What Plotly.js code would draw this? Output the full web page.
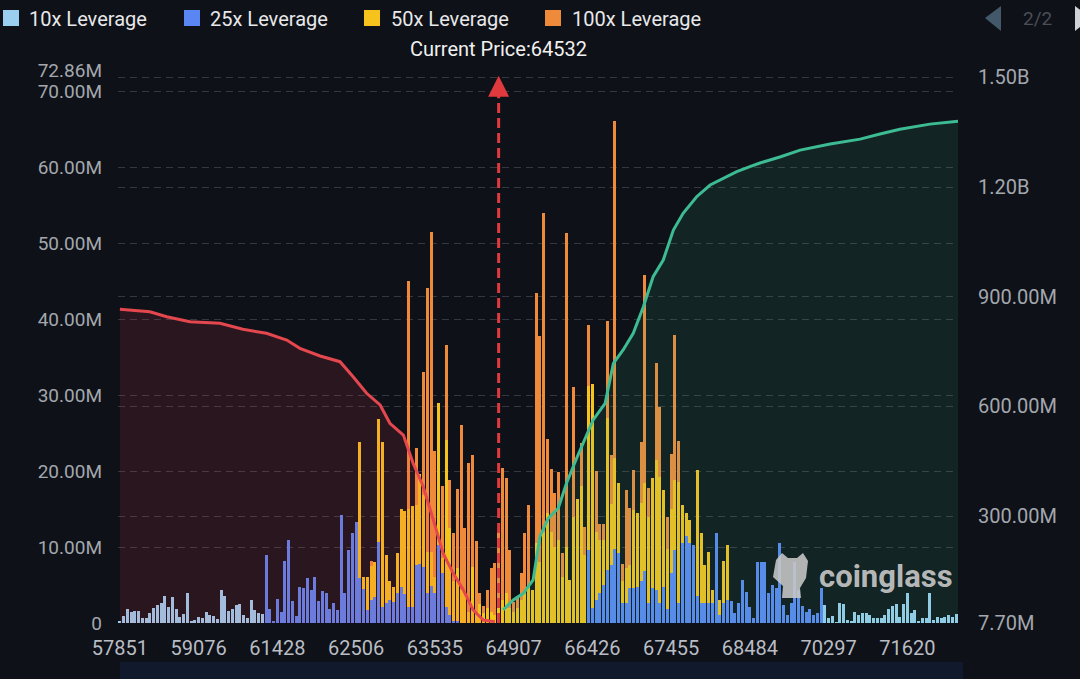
<!DOCTYPE html>
<html>
<head>
<meta charset="utf-8">
<script src="https://cdn.plot.ly/plotly-3.0.1.min.js"></script>
<style>
html,body{margin:0;padding:0;background:#0e1117;}
#chart{width:1080px;height:679px;}
</style>
</head>
<body>
<div id="chart"></div>
<script>
// ---------------- DATA ----------------
var seriesNames = ["10x Leverage", "25x Leverage", "50x Leverage", "100x Leverage"];

var xTickLabels = ["57851","59076","61428","62506","63535","64907","66426","67455","68484","70297","71620"];
var xTickIndex  = [0,21,42,63,84,105,126,147,168,189,210];

var leftTickVals = [0,10,20,30,40,50,60,70,72.86];
var leftTickText = ["0","10.00M","20.00M","30.00M","40.00M","50.00M","60.00M","70.00M","72.86M"];
var rightTickVals = [7.7,300,600,900,1200,1500];
var rightTickText = ["7.70M","300.00M","600.00M","900.00M","1.20B","1.50B"];

var currentPrice = 64532;
var currentPriceIndex = 101;

// liquidation volume per price bin (millions), 224 bins
var lev10 = [
0.3,0.9,1.85,1.4,1.6,1.6,0.7,0.65,1.3,2.0,
2.4,2.6,3.6,2.1,3.4,1.85,0.8,1.2,4.0,0.3,
0.45,0.85,0.6,1.4,1.1,0.9,0.5,4.4,3.5,1.6,
1.9,2.4,2.5,1.0,0.6,3.0,1.75,1.3,1.25,0,
0,0,0,0,0,0,0,0,0,0,
0,0,0,0,0,0,0,0,0,0,
0,0,0,0,0,0,0,0,0,0,
0,0,0,0,0,0,0,0,0,0,
0,0,0,0,0,0,0,0,0,0,
0,0,0,0,0,0,0,0,0,0,
0,0,0,0,0,0,0,0,0,0,
0,0,0,0,0,0,0,0,0,0,
0,0,0,0,0,0,0,0,0,0,
0,0,0,0,0,0,0,0,0,0,
0,0,0,0,0,0,0,0,0,0,
0,0,0,0,0,0,0,0,0,0,
0,0,0,0,0,0,0,0,0,0,
0,0,0,0,0,0,0,0,0,0,
0,0,0,0,0,0,0,0,2.4,0.6,
0.9,0.1,2.6,2.5,0.4,0.2,1.5,1.0,1.3,1.3,
1.1,0.7,0.7,0.7,1.1,1.8,2.2,2.5,0.8,2.5,
4.0,1.3,1.7,0.3,0.6,0.6,3.9,0.4,0.8,0.7,
0.8,1.1,0.8,1.2
];
var lev25 = [
0,0,0,0,0,0,0,0,0,0,
0,0,0,0,0,0,0,0,0,0,
0,0,0,0,0,0,0,0,0,0,
0,0,0,0,0,0,0,0,0,9.0,
1.9,0.3,3.1,1.5,8.2,10.9,2.9,0.9,4.8,4.6,
5.9,4.3,6.1,2.9,4.2,4.0,1.85,2.7,1.75,14.2,
4.0,9.6,11.8,13.3,5.9,4.5,1.7,3.0,3.4,10.7,
2.1,2.7,3.0,2.8,4.0,4.7,3.8,2.1,2.1,7.6,
7.8,7.4,4.0,4.9,4.0,10.3,6.6,2.1,1.0,0.3,
0.2,0,0,0,0,0,0,0,0,0,
0,0,0,0,0,0,0,0,0,0,
0,0,0,0,0,0,0,0,0,0,
0,0,0,0,0,9.6,2,3,4,5,
7,7.7,9.8,9.2,2.6,2.6,4.6,4.6,4.7,5.5,
6.9,2.6,4.6,4.3,2.6,4.7,1.8,6.6,9.6,2.6,
10.5,11.4,10.5,10.3,3.5,2.6,2.6,2.6,2.6,11.8,
1.0,2.6,3.0,2.9,1.3,2.6,5.7,4.1,2.1,0.6,
8.1,8.0,8.0,3.9,5.0,4.6,10.5,2.4,1.1,2.6,
8.1,4.3,2.2,1.5,1.9,1.1,1.3,4.6,0,0,
0,0,0,0,0,0,0,0,0,0,
0,0,0,0,0,0,0,0,0,0,
0,0,0,0,0,0,0,0,0,0,
0,0,0,0
];
var lev50 = [
0,0,0,0,0,0,0,0,0,0,
0,0,0,0,0,0,0,0,0,0,
0,0,0,0,0,0,0,0,0,0,
0,0,0,0,0,0,0,0,0,0,
0,0,0,0,0,0,0,0,0,0,
0,0,0,0,0,0,0,0,0,0,
0,0,0,0,18.0,1.6,4.4,4.5,4.6,16.2,
21.7,6.3,2.5,1.9,5.2,10.3,11.0,12.9,13.3,8.0,
11.8,9.5,5.3,4.4,2.0,18.7,2.0,22.0,11.5,5.3,
7.1,4.3,4.3,1.4,7.4,1.5,2.5,1.3,2.0,1.5,
1.0,2,3,4,2,1.5,2,3,4,5,
4.3,10.5,8,12,14.5,12,10,11,6,10,
5.7,14,16.4,18,9,21.6,29.5,9,7,6,
20,8,12,9.2,3,4.6,3,10.3,9.8,10.3,
11.6,11.4,14.5,17.2,16.7,12.8,8,8.4,9.3,16,
5.1,3.1,3.1,0,16.7,9.2,5.0,6.8,1.7,0,
2.0,5.6,7.3,0,0,0,0,0,0,0,
0,0,0,0,0,0,0,0,0,0,
0,0,0,0,0,0,0,0,0,0,
0,0,0,0,0,0,0,0,0,0,
0,0,0,0,0,0,0,0,0,0,
0,0,0,0,0,0,0,0,0,0,
0,0,0,0
];
var lev100 = [
0,0,0,0,0,0,0,0,0,0,
0,0,0,0,0,0,0,0,0,0,
0,0,0,0,0,0,0,0,0,0,
0,0,0,0,0,0,0,0,0,0,
0,0,0,0,0,0,0,0,0,0,
0,0,0,0,0,0,0,0,0,0,
0,0,0,0,0,0,0,0.7,0,0,
0,0,0,0,0,0,0,30,0,7.5,
0,16.2,34.8,42.2,16.6,0,9.4,12.5,6.4,6.3,
10.4,21.8,8.2,19.7,14.7,9.3,1.4,1.0,2.4,5.7,
6.9,10,17.4,15.1,7.6,1.3,1.5,3.6,7.9,10.6,
0,33,29.8,42,9.8,8.3,7.1,8.9,3.2,41.4,
0,17.1,0,5.7,3.7,8,0,8,2,2.1,
12.8,6.4,44.4,0,2.2,10.3,7.5,5.3,0,8.1,
27.4,3.8,0,12.8,9.1,0,4.2,7.3,19,5.4,
0,0,0,0,0,0,0,0,0,0,
0,0,0,0,0,0,0,0,0,0,
0,0,0,0,0,0,0,0,0,0,
0,0,0,0,0,0,0,0,0,0,
0,0,0,0,0,0,0,0,0,0,
0,0,0,0,0,0,0,0,0,0,
0,0,0,0,0,0,0,0,0,0,
0,0,0,0
];

// cumulative liquidation (millions), right axis
var longCumIndex = [0,8,12.5,18.7,26.7,32.8,39.1,44.5,48,53.4,58.7,62.2,65.8,69.4,72,75.6,78.2,80.9,83.6,86.2,88.9,91.6,94.2,96.9,100];
var longCumValue = [865.6,859,845.3,831.7,827.3,810.9,800,781.6,758.9,737.9,722.3,681.3,635.9,603.9,553.8,521.8,444.4,380.4,289.4,198.3,143.6,98,43.3,15.9,11.3];
var shortCumIndex = [102.2,104.9,107.6,110.2,112,114.2,116.9,119.1,121.8,124,126.2,129.4,131.6,134.2,136.9,139.6,142.2,144.9,147.6,150.2,153.8,157.4,160.9,164.5,168,170.7,176,181.4,189.4,197.4,202.7,208,216,223.5];
var shortCumValue = [43.3,70.6,88.9,125.3,243.7,294,321.4,389.7,458.1,508.1,562.9,608.5,717.9,754.3,800,872.7,954.7,1000.4,1082.4,1128,1173.5,1205.5,1223.8,1241.9,1255.6,1265.7,1282,1301,1317.6,1331,1345,1358,1372,1380];

// ---------------- CHART ----------------
var binIndex = lev10.map(function(_, i){ return i; });
var colors = ["#9acff0", "#5a86f3", "#f6c21c", "#ef8a3a"];
var seriesData = [lev10, lev25, lev50, lev100];

var traces = seriesData.map(function(vals, k){
  return {
    type: "bar", name: seriesNames[k], x: binIndex, y: vals,
    marker: {color: colors[k], line: {width: 0}},
    hoverinfo: "skip"
  };
});
traces.push({
  type: "scatter", mode: "lines", x: longCumIndex, y: longCumValue, yaxis: "y2",
  line: {color: "#e5474f", width: 3}, fill: "tozeroy", fillcolor: "rgba(230,60,75,0.13)",
  showlegend: false, hoverinfo: "skip"
});
traces.push({
  type: "scatter", mode: "lines", x: shortCumIndex, y: shortCumValue, yaxis: "y2",
  line: {color: "#3dbb92", width: 3}, fill: "tozeroy", fillcolor: "rgba(60,190,150,0.11)",
  showlegend: false, hoverinfo: "skip"
});

var L = 118, R = 122, T = 70, B = 56, W = 1080, H = 679;
var pw = W - L - R, ph = H - T - B;
function px(xp){ return (xp - L) / pw; }
function py(yp){ return (H - B - yp) / ph; }

// legend swatch squares (enlarged to match reference swatch size)
var swatchLeft = [3, 184, 364, 545];
var shapes = [
  {type: "line", xref: "x", yref: "y", x0: currentPriceIndex, x1: currentPriceIndex, y0: 0, y1: 69.2,
   line: {color: "#e0393e", width: 3, dash: "10px,5px"}, layer: "above"},
  {type: "rect", xref: "paper", yref: "paper", x0: px(120), x1: px(963), y0: py(662), y1: py(690),
   fillcolor: "#111a2c", line: {width: 0}, layer: "below"},
  {type: "path", xref: "paper", yref: "paper",
   path: "M" + px(1001) + "," + py(6) + " L" + px(985) + "," + py(18) + " L" + px(1001) + "," + py(31) + " Z",
   fillcolor: "#43596a", line: {width: 0}},
  {type: "path", xref: "paper", yref: "paper",
   path: "M" + px(1075) + "," + py(6) + " L" + px(1091) + "," + py(18) + " L" + px(1075) + "," + py(31) + " Z",
   fillcolor: "#cfd2d6", line: {width: 0}},
  // watermark logo blob
  {type: "path", xref: "paper", yref: "paper",
   path: "M" + px(776) + "," + py(560) + " L" + px(782) + "," + py(553) + " L" + px(788) + "," + py(558) +
         " L" + px(797) + "," + py(558) + " L" + px(803) + "," + py(553) + " L" + px(808) + "," + py(561) +
         " L" + px(806) + "," + py(578) + " L" + px(800) + "," + py(588) + " L" + px(801) + "," + py(598) +
         " L" + px(782) + "," + py(598) + " L" + px(783) + "," + py(586) + " L" + px(773) + "," + py(577) + " Z",
   fillcolor: "rgba(200,200,200,0.88)", line: {width: 0}, layer: "above"}
];
swatchLeft.forEach(function(s, k){
  shapes.push({type: "rect", xref: "paper", yref: "paper", x0: px(s), x1: px(s + 16), y0: py(10), y1: py(26),
               fillcolor: colors[k], line: {width: 0}, layer: "above"});
});

var layout = {
  width: W, height: H,
  paper_bgcolor: "#0e1117", plot_bgcolor: "#0e1117",
  margin: {l: L, r: R, t: T, b: B, pad: 0, autoexpand: false},
  font: {family: "Roboto, sans-serif", color: "#a3a7ae", size: 20},
  barmode: "stack", bargap: 0.22,
  showlegend: true,
  legend: {
    orientation: "h", x: px(-11), xanchor: "left", y: py(-1), yanchor: "top",
    font: {size: 20, color: "#e8e8ea"}, bgcolor: "rgba(0,0,0,0)",
    entrywidth: 136, traceorder: "normal", itemclick: false
  },
  xaxis: {
    range: [-0.5, 223.5], tickmode: "array", tickvals: xTickIndex, ticktext: xTickLabels,
    showgrid: false, zeroline: false, showline: false, ticks: "",
    tickfont: {size: 20, color: "#b9bdc4"}, ticklabelstandoff: 11, fixedrange: true
  },
  yaxis: {
    range: [0, 72.86], tickmode: "array", tickvals: leftTickVals, ticktext: leftTickText,
    showgrid: true, gridcolor: "#343840", griddash: "7px,5px", gridwidth: 1,
    zeroline: false, showline: false, ticks: "",
    tickfont: {size: 19, color: "#a3a7ae"}, ticklabelstandoff: 15, fixedrange: true
  },
  yaxis2: {
    overlaying: "y", side: "right",
    range: [7.7, 1520], tickmode: "array", tickvals: rightTickVals, ticktext: rightTickText,
    showgrid: true, gridcolor: "#343840", griddash: "7px,5px", gridwidth: 1,
    zeroline: false, showline: false, ticks: "",
    tickfont: {size: 20, color: "#a3a7ae"}, ticklabelstandoff: 19, fixedrange: true
  },
  shapes: shapes,
  annotations: [
    {xref: "x", yref: "paper", x: currentPriceIndex, y: py(49), text: "Current Price:" + currentPrice,
     showarrow: false, font: {size: 20, color: "#f0f0f0"}, xanchor: "center", yanchor: "middle"},
    {xref: "x", yref: "y", x: currentPriceIndex, y: 72.1, ax: 0, ay: 24, text: "",
     showarrow: true, arrowhead: 2, arrowsize: 1.4, arrowwidth: 3, arrowcolor: "#e0393e"},
    {xref: "paper", yref: "paper", x: px(886), y: py(576), text: "<b>coinglass</b>",
     showarrow: false, font: {size: 31, color: "rgba(205,205,205,0.9)"}, xanchor: "center", yanchor: "middle"},
    {xref: "paper", yref: "paper", x: px(1037), y: py(18), text: "2/2",
     showarrow: false, font: {size: 19, color: "#4a4e57"}, xanchor: "center", yanchor: "middle"}
  ]
};

Plotly.newPlot("chart", traces, layout, {displayModeBar: false, staticPlot: true});
</script>
</body>
</html>
